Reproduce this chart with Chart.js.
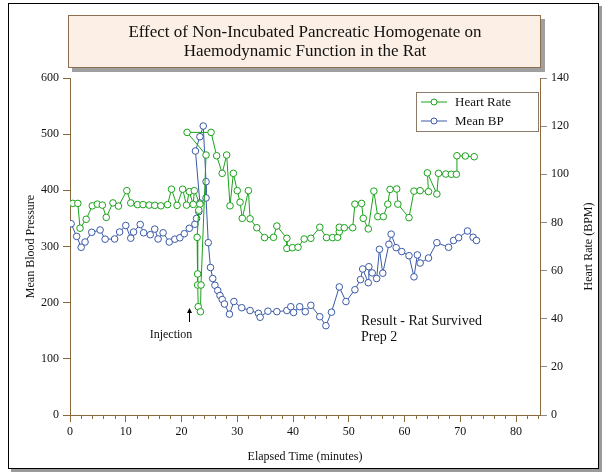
<!DOCTYPE html>
<html lang="en">
<head>
<meta charset="utf-8">
<title>Non-Incubated Pancreatic Homogenate</title>
<script src="https://cdn.jsdelivr.net/npm/chart.js"></script>
<style>
  html, body { margin: 0; padding: 0; background: #fff; }
</style>
</head>
<body>
<canvas id="myChart" width="607" height="473"></canvas>
<script>
// data
const hrTime = [0.5, 1.4, 1.8, 2.9, 4.0, 4.9, 5.8, 6.5, 7.7, 8.7, 10.2, 10.9, 12.1, 13.1, 14.2, 15.2, 16.3, 17.5, 18.2, 19.2,
  20.2, 20.9, 21.4, 22.1, 22.3, 23.3, 23.1, 22.8, 22.9, 22.9, 23.0, 23.4, 23.5, 24.4, 21.0, 25.3, 26.3, 27.3, 28.1, 28.7,
  29.3, 30.0, 30.5, 30.9, 32.0, 32.3, 33.5, 34.9, 36.5, 37.1, 38.9, 38.9, 39.9, 40.9, 42.0, 43.2, 44.8, 46.0, 47.1, 48.0,
  48.3, 48.3, 49.2, 50.7, 51.1, 52.3, 52.6, 53.5, 54.5, 55.2, 56.2, 57.0, 57.4, 58.6, 58.8, 60.8, 61.7, 62.8, 64.3, 64.1,
  65.8, 66.1, 67.4, 68.4, 69.3, 69.4, 70.9, 72.5];
const hrValues = [87.9, 87.9, 77.6, 81.3, 86.9, 87.6, 87.2, 82.1, 88.1, 86.8, 93.2, 88.1, 87.4, 87.4, 87.2, 87.1, 86.9, 87.4, 93.8, 87.1,
  93.8, 87.2, 92.8, 87.5, 93.2, 87.6, 85.1, 73.8, 58.6, 54.0, 45.0, 42.9, 54.0, 108.0, 117.4, 117.4, 107.7, 100.4, 108.0, 86.9,
  100.4, 93.2, 88.4, 81.7, 93.2, 81.5, 77.8, 73.7, 73.8, 78.5, 73.4, 69.2, 69.5, 69.7, 73.1, 73.4, 78.0, 73.7, 73.7, 73.8,
  76.1, 78.0, 77.8, 77.8, 87.6, 87.9, 81.7, 77.3, 93.0, 82.4, 82.4, 87.6, 93.7, 93.9, 87.6, 82.0, 93.0, 93.2, 92.8, 100.6,
  91.8, 100.4, 100.1, 100.0, 100.0, 107.7, 107.6, 107.3];

const bpTime = [0.2, 1.2, 2.0, 2.7, 3.9, 5.4, 6.3, 8.0, 8.9, 10.0, 10.9, 11.4, 12.6, 13.2, 14.4, 15.2, 15.8, 16.7, 17.8, 18.8,
  19.7, 20.5, 21.4, 22.4, 22.7, 23.1, 23.3, 22.5, 23.3, 23.9, 24.4, 24.4, 24.8, 25.2, 25.6, 26.0, 26.5, 26.9, 27.3, 27.7,
  28.6, 29.4, 30.8, 32.3, 33.8, 34.1, 35.5, 37.1, 38.9, 39.6, 40.1, 41.2, 42.2, 43.2, 44.8, 45.9, 46.9, 48.3, 49.5, 51.1,
  52.1, 52.5, 53.5, 53.6, 54.2, 55.0, 55.5, 56.1, 57.2, 57.6, 58.5, 59.5, 60.8, 61.7, 62.3, 62.8, 64.3, 65.8, 67.9, 68.8,
  69.7, 71.3, 72.3, 72.9];
const bpValues = [340.5, 318, 298.6, 308, 325.3, 329.4, 313, 313.4, 325.8, 337.4, 314.8, 325.8, 339.2, 324.4, 321, 331, 313.4, 324.4, 308, 313,
  315.5, 322.8, 332.4, 339.7, 350, 362, 377.4, 470, 495.5, 514.5, 415.4, 386.4, 306.8, 262.6, 243, 231, 221.7, 212.8, 205.6, 197.6,
  179.5, 202, 191, 186, 181, 174, 184.8, 184, 186, 192.8, 182.5, 192.8, 184, 195.3, 175, 159, 183, 228, 202, 223,
  241, 260, 235.5, 264, 253, 243, 295, 252.5, 304, 322, 298, 291, 283.6, 246, 285, 270.6, 279.5, 306.8, 298.6, 310.7,
  315.7, 327.6, 316.4, 310.7];

const xTicks = [0, 10, 20, 30, 40, 50, 60, 70, 80];
const xMinorStep = 2;
const titleLines = ['Effect of Non-Incubated Pancreatic Homogenate on', 'Haemodynamic Function in the Rat'];
const rightTitle = 'Heart Rate (BPM)';

const SERIF = '"Liberation Serif", "DejaVu Serif", serif';
const BROWN = '#8a6a3c';
const GREEN = '#1aa31a';
const BLUE = '#3a5aa8';

// frame, title box, legend, notes and minor ticks
const decor = {
  id: 'decor',
  beforeDraw(chart) {
    const c = chart.ctx;
    c.save();
    c.fillStyle = '#fff';
    c.fillRect(0, 0, chart.width, chart.height);
    // outer frame with shadow
    c.fillStyle = '#9a9a9a';
    c.fillRect(11, 6, 591, 466);
    c.fillStyle = '#fff';
    c.fillRect(8, 3, 591, 466);
    c.strokeStyle = '#000';
    c.lineWidth = 1;
    c.strokeRect(8.5, 3.5, 590, 465);
    // title box
    c.fillStyle = '#a0a0a0';
    c.fillRect(72, 19, 473, 53);
    c.fillStyle = '#fcefe5';
    c.fillRect(68, 15, 473, 53);
    c.strokeStyle = '#8c6e50';
    c.strokeRect(68.5, 15.5, 472, 52);
    c.fillStyle = '#111';
    c.font = '17px ' + SERIF;
    c.textAlign = 'center';
    c.textBaseline = 'middle';
    c.fillText(titleLines[0], 305, 33);
    c.fillText(titleLines[1], 305, 52);
    c.restore();
  },
  afterDraw(chart) {
    const c = chart.ctx;
    const xs = chart.scales.x;
    const area = chart.chartArea;
    c.save();
    // minor ticks on the time axis
    c.strokeStyle = BROWN;
    c.lineWidth = 1;
    for (let v = xMinorStep; v < xs.max; v += xMinorStep) {
      if (v % 10 === 0) continue;
      const px = Math.round(xs.getPixelForValue(v)) + 0.5;
      c.beginPath();
      c.moveTo(px, area.bottom);
      c.lineTo(px, area.bottom + 4);
      c.stroke();
    }
    // right axis title, reading upwards
    c.save();
    c.translate(589, (area.top + area.bottom) / 2);
    c.rotate(-Math.PI / 2);
    c.font = '12px ' + SERIF;
    c.fillStyle = '#111';
    c.textAlign = 'center';
    c.textBaseline = 'middle';
    c.fillText(rightTitle, 0, 0);
    c.restore();
    // legend
    c.strokeStyle = '#8c7a68';
    c.strokeRect(416.5, 92.5, 122, 39);
    c.font = '13px ' + SERIF;
    c.textAlign = 'left';
    c.textBaseline = 'middle';
    chart.data.datasets.forEach((ds, i) => {
      const y = 102 + i * 19;
      c.strokeStyle = ds.borderColor;
      c.beginPath();
      c.moveTo(421, y);
      c.lineTo(447, y);
      c.stroke();
      c.fillStyle = '#fff';
      c.beginPath();
      c.arc(434, y, 3, 0, Math.PI * 2);
      c.fill();
      c.stroke();
      c.fillStyle = '#111';
      c.fillText(ds.label, 455, y + 1);
    });
    // injection marker
    const ax = Math.round(xs.getPixelForValue(21.3)) + 0.5;
    c.strokeStyle = '#000';
    c.fillStyle = '#000';
    c.beginPath();
    c.moveTo(ax, 322);
    c.lineTo(ax, 312);
    c.stroke();
    c.beginPath();
    c.moveTo(ax - 2.5, 313);
    c.lineTo(ax, 308);
    c.lineTo(ax + 2.5, 313);
    c.closePath();
    c.fill();
    c.font = '12px ' + SERIF;
    c.textAlign = 'center';
    c.fillStyle = '#111';
    c.fillText('Injection', 171, 335);
    // result note
    c.font = '14px ' + SERIF;
    c.textAlign = 'left';
    c.fillText('Result - Rat Survived', 361, 321);
    c.fillText('Prep 2', 361, 337);
    c.restore();
  }
};

const ctx = document.getElementById('myChart').getContext('2d');
const myChart = new Chart(ctx, {
  type: 'scatter',
  data: {
    datasets: [{
      label: 'Heart Rate',
      data: hrTime.map((t, i) => ({ x: t, y: hrValues[i] })),
      yAxisID: 'y1',
      showLine: true,
      borderColor: GREEN,
      backgroundColor: '#fff',
      borderWidth: 1,
      pointRadius: 3.3,
      pointBorderWidth: 1,
      pointBackgroundColor: '#fff',
      pointBorderColor: GREEN
    }, {
      label: 'Mean BP',
      data: bpTime.map((t, i) => ({ x: t, y: bpValues[i] })),
      yAxisID: 'y',
      showLine: true,
      borderColor: BLUE,
      backgroundColor: '#fff',
      borderWidth: 1,
      pointRadius: 3.3,
      pointBorderWidth: 1,
      pointBackgroundColor: '#fff',
      pointBorderColor: BLUE
    }]
  },
  options: {
    responsive: false,
    animation: false,
    devicePixelRatio: 1,
    layout: { padding: { left: 10, right: 10, top: 78, bottom: 8 } },
    plugins: {
      legend: { display: false },
      tooltip: { enabled: false }
    },
    scales: {
      x: {
        type: 'linear',
        position: 'bottom',
        min: 0,
        max: 84.3,
        afterBuildTicks: (s) => { s.ticks = xTicks.map(v => ({ value: v })); },
        afterFit: (s) => { s.height = 50; },
        ticks: { color: '#111', font: { family: SERIF, size: 12 }, padding: 3 },
        grid: { drawOnChartArea: false, tickLength: 7, tickColor: BROWN },
        border: { color: BROWN },
        title: { display: true, text: 'Elapsed Time (minutes)', color: '#111', font: { family: SERIF, size: 12 }, padding: { top: 2, bottom: 1 } }
      },
      y: {
        position: 'left',
        min: 0,
        max: 600,
        afterFit: (s) => { s.width = 60; },
        ticks: { stepSize: 100, color: '#111', font: { family: SERIF, size: 12 }, padding: 4 },
        grid: { drawOnChartArea: false, tickLength: 7, tickColor: BROWN },
        border: { color: BROWN },
        title: { display: true, text: 'Mean Blood Pressure', color: '#111', font: { family: SERIF, size: 12 }, padding: { top: 14, bottom: 2 } }
      },
      y1: {
        position: 'right',
        min: 0,
        max: 140,
        afterFit: (s) => { s.width = 57; },
        ticks: { stepSize: 20, color: '#111', font: { family: SERIF, size: 12 }, padding: 4 },
        grid: { drawOnChartArea: false, tickLength: 7, tickColor: '#8a8a8a' },
        border: { color: BROWN },
        title: { display: false }
      }
    }
  },
  plugins: [decor]
});
</script>
</body>
</html>
